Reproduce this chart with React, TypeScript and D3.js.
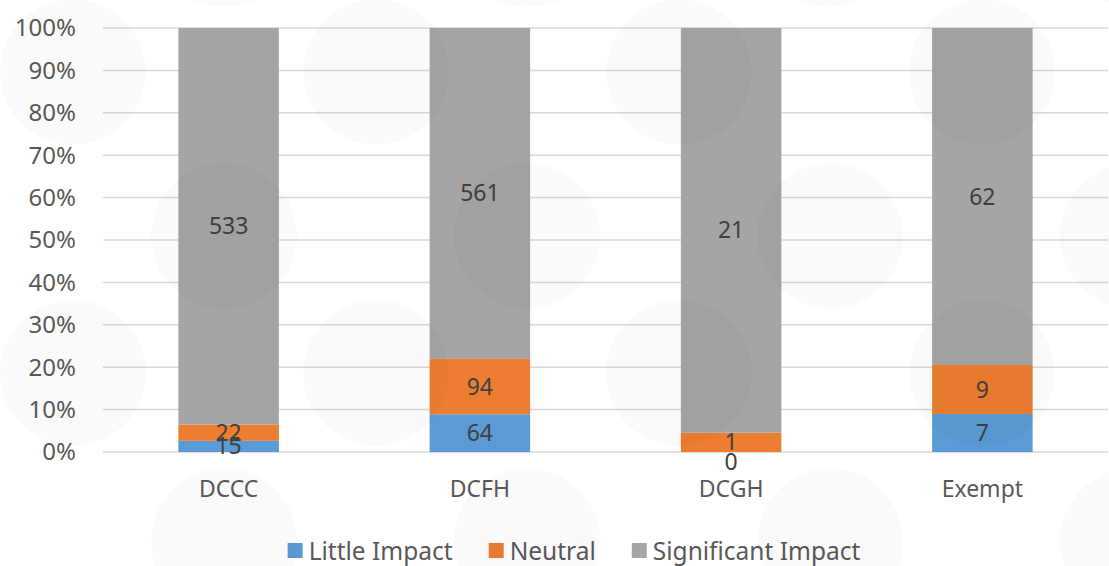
import { useEffect, useRef } from 'react';
import * as d3 from 'd3';

const categories = ['DCCC', 'DCFH', 'DCGH', 'Exempt'];
const seriesNames = ['Little Impact', 'Neutral', 'Significant Impact'];
const littleImpact = [15, 64, 0, 7];
const neutral = [22, 94, 1, 9];
const significantImpact = [533, 561, 21, 62];
const seriesColors = ['#5b9bd5', '#ed7d31', '#a5a5a5'];
const yTicks = [0, 0.1, 0.2, 0.3, 0.4, 0.5, 0.6, 0.7, 0.8, 0.9, 1];

// faint watermark circles behind the screenshot
const dotRowsA = [72, 373];
const dotColsA = [73, 376, 679, 982];
const dotRowsB = [-66, 236, 541];
const dotColsB = [224, 527, 830, 1133];

const W = 1109;
const H = 566;
const FONT = '"Noto Sans", sans-serif';

const App = () => {
    const ref = useRef<SVGSVGElement>(null);

    useEffect(() => {
        const svg = d3.select(ref.current);
        svg.selectAll('*').remove();

        const rows = categories.map((c, i) => ({
            category: c,
            'Little Impact': littleImpact[i],
            'Neutral': neutral[i],
            'Significant Impact': significantImpact[i],
        }));

        const stacked = d3.stack<any>()
            .keys(seriesNames)
            .offset(d3.stackOffsetExpand)(rows);

        const x = d3.scaleBand().domain(categories).range([103, 1108]).paddingInner(0.6).paddingOuter(0.3);
        const y = d3.scaleLinear().domain([0, 1]).range([452, 28]);

        // gridlines
        svg.append('g')
            .selectAll('line')
            .data(yTicks)
            .join('line')
            .attr('x1', 103)
            .attr('x2', 1108)
            .attr('y1', d => y(d))
            .attr('y2', d => y(d))
            .attr('stroke', '#d9d9d9')
            .attr('stroke-width', 1.5);

        svg.append('g')
            .selectAll('text')
            .data(yTicks)
            .join('text')
            .attr('x', 76)
            .attr('y', d => y(d))
            .attr('dy', '0.35em')
            .attr('text-anchor', 'end')
            .attr('font-family', FONT)
            .attr('font-size', 24)
            .attr('fill', '#595959')
            .text(d => d3.format('.0%')(d));

        // bars
        const layers = svg.append('g')
            .selectAll('g')
            .data(stacked)
            .join('g')
            .attr('fill', (_, i) => seriesColors[i]);

        layers.selectAll('rect')
            .data(d => d)
            .join('rect')
            .attr('x', d => x(d.data.category) ?? 0)
            .attr('width', x.bandwidth())
            .attr('y', d => y(d[1]))
            .attr('height', d => y(d[0]) - y(d[1]));

        // data labels
        const labels = svg.append('g');
        stacked.forEach(layer => {
            layer.forEach(d => {
                const v = d.data[layer.key];
                let cy = (y(d[0]) + y(d[1])) / 2;
                if (v === 0) cy += 10;
                labels.append('text')
                    .attr('x', (x(d.data.category) ?? 0) + x.bandwidth() / 2)
                    .attr('y', cy)
                    .attr('dy', '0.35em')
                    .attr('text-anchor', 'middle')
                    .attr('font-family', FONT)
                    .attr('font-size', 23)
                    .attr('fill', '#404040')
                    .text(v);
            });
        });

        // category axis
        svg.append('g')
            .selectAll('text')
            .data(categories)
            .join('text')
            .attr('x', d => (x(d) ?? 0) + x.bandwidth() / 2)
            .attr('y', 489)
            .attr('dy', '0.35em')
            .attr('text-anchor', 'middle')
            .attr('font-family', FONT)
            .attr('font-size', 23)
            .attr('fill', '#595959')
            .text(d => d);

        // legend, measured then centred
        const legend = svg.append('g');
        const items = seriesNames.map((name, i) => {
            const g = legend.append('g');
            g.append('rect').attr('width', 15).attr('height', 15).attr('y', -8).attr('fill', seriesColors[i]);
            const t = g.append('text')
                .attr('x', 21)
                .attr('dy', '0.35em')
                .attr('font-family', FONT)
                .attr('font-size', 24.5)
                .attr('fill', '#595959')
                .text(name);
            const w = (t.node() as SVGTextElement).getComputedTextLength();
            return { g, w: 21 + w };
        });
        const gap = 36;
        const total = d3.sum(items, d => d.w) + gap * (items.length - 1);
        let lx = 574 - total / 2;
        items.forEach(it => {
            it.g.attr('transform', `translate(${lx},551)`);
            lx += it.w + gap;
        });

        // watermark dots over everything
        const dots = [
            ...dotRowsA.flatMap(cy => dotColsA.map(cx => [cx, cy])),
            ...dotRowsB.flatMap(cy => dotColsB.map(cx => [cx, cy])),
        ];
        svg.append('g')
            .selectAll('circle')
            .data(dots)
            .join('circle')
            .attr('cx', d => d[0])
            .attr('cy', d => d[1])
            .attr('r', 73)
            .attr('fill', '#000')
            .attr('fill-opacity', 0.018)
            .attr('pointer-events', 'none');
    }, []);

    return (
        <svg ref={ref} width={W} height={H}
             style={{ position: 'absolute', left: 0, top: 0, background: '#fff', display: 'block' }} />
    );
};

export default App;
